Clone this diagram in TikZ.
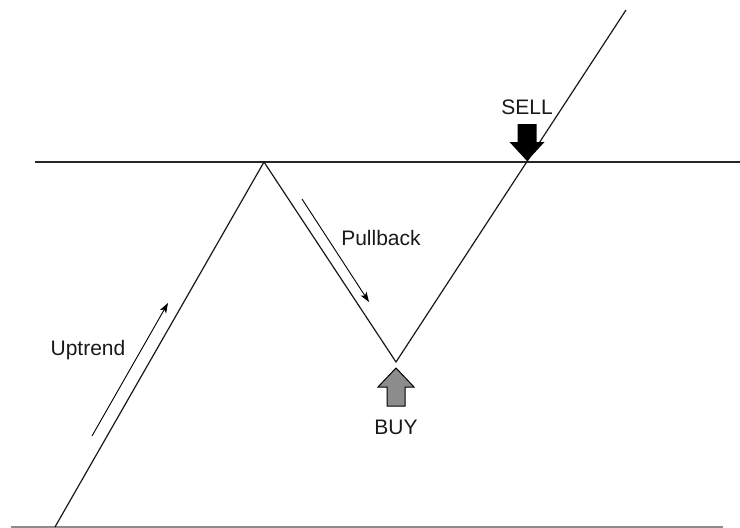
\documentclass[tikz,border=0pt]{standalone}
\usepackage{fontspec}
\setmainfont{Liberation Sans}
\usetikzlibrary{arrows.meta}
\begin{document}
\begin{tikzpicture}[x=1pt,y=-1pt,line width=1.2pt,
	price/.style={draw=black!90},
	level/.style={draw=black!85,line width=2pt},
	ground/.style={draw=black!45,line width=2pt},
	trend/.style={draw=black,line width=0.9pt,-{Stealth[length=10pt,width=7pt,inset=2.5pt]}},
	lbl/.style={font=\fontsize{21}{23}\selectfont,text=black!90,inner sep=0pt}]
	  \useasboundingbox (0,0) rectangle (740,528);
	  % price path
	  \coordinate (P-start) at (55,527);
	  \coordinate (P-peak) at (264,162);
	  \coordinate (P-low) at (396,362);
	  \coordinate (P-end) at (626,10);
	  \draw[ground] (11,527) -- (723,527);
	  \draw[level] (35,162) -- (740,162);
	  \draw[price] (P-start) -- (P-peak) -- (P-low) -- (P-end);
	  % trend arrows
	  \coordinate (U-a) at (92,436);
	  \coordinate (U-b) at (168,303);
	  \coordinate (D-a) at (302,199);
	  \coordinate (D-b) at (369,302);
	  \draw[trend] (U-a) -- (U-b);
	  \draw[trend] (D-a) -- (D-b);
	  % sell and buy
	  \coordinate (sell) at (527,161);
	  \coordinate (buy) at (396,368);
	  \fill[black] (sell) -- ++(-17.5,-19) -- ++(8,0) -- ++(0,-18) -- ++(19,0) -- ++(0,18) -- ++(8,0) -- cycle;
	  \filldraw[fill=black!45,draw=black,line width=1pt] (buy) -- ++(18,19) -- ++(-9,0) -- ++(0,19) -- ++(-18,0) -- ++(0,-19) -- ++(-9,0) -- cycle;
	  % labels
	  \node[lbl] (L-sell) at (527,107) {SELL};
	  \node[lbl] (L-buy) at (396,427) {BUY};
	  \node[lbl] (L-pull) at (381,238) {Pullback};
	  \node[lbl] (L-up) at (88,350) {Uptrend};
	\end{tikzpicture}
\end{document}
